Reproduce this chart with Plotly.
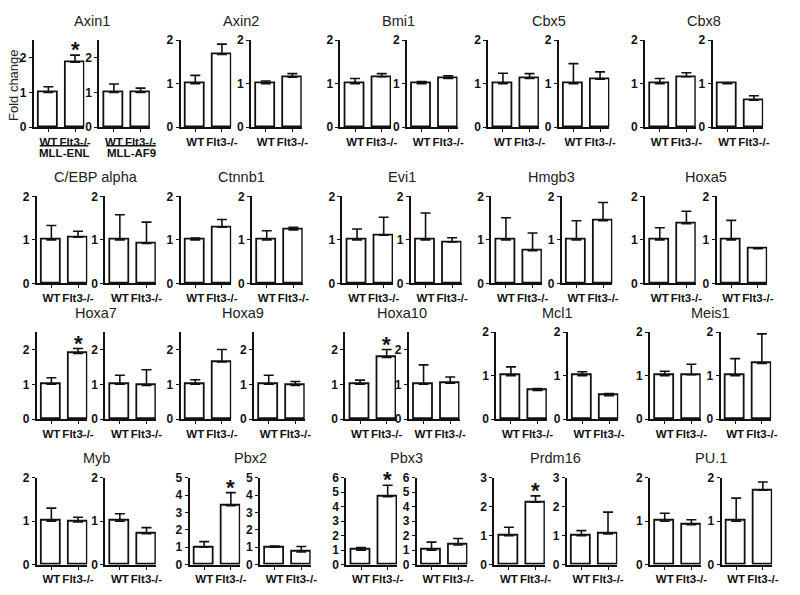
import plotly.graph_objects as go

# ---------------- data ----------------
genes = ["Axin1", "Axin2", "Bmi1", "Cbx5", "Cbx8",
         "C/EBP alpha", "Ctnnb1", "Evi1", "Hmgb3", "Hoxa5",
         "Hoxa7", "Hoxa9", "Hoxa10", "Mcl1", "Meis1",
         "Myb", "Pbx2", "Pbx3", "Prdm16", "PU.1"]
categories = ["WT", "Flt3-/-"]

# MLL-ENL panel (left of each pair)
enl_wt = [1.0, 1.0, 1.0, 1.0, 1.0, 1.0, 1.0, 1.0, 1.0, 1.0,
          1.0, 1.0, 1.0, 1.0, 1.0, 1.0, 1.0, 1.0, 1.0, 1.0]
enl_wt_err = [0.16, 0.19, 0.12, 0.24, 0.12, 0.33, 0.04, 0.25, 0.51, 0.28,
              0.19, 0.13, 0.12, 0.20, 0.10, 0.30, 0.32, 0.18, 0.29, 0.18]
enl_ko = [1.87, 1.67, 1.16, 1.12, 1.16, 1.06, 1.29, 1.11, 0.75, 1.37,
          1.89, 1.64, 1.77, 0.66, 1.02, 0.98, 3.38, 4.69, 2.15, 0.92]
enl_ko_err = [0.20, 0.24, 0.07, 0.11, 0.09, 0.14, 0.18, 0.41, 0.41, 0.29,
              0.14, 0.36, 0.23, 0.04, 0.24, 0.11, 0.76, 0.79, 0.22, 0.11]

# MLL-AF9 panel (right of each pair)
af9_wt = [1.0, 1.0, 1.0, 1.0, 1.0, 1.0, 1.0, 1.0, 1.0, 1.0,
          1.0, 1.0, 1.0, 1.0, 1.0, 1.0, 1.0, 1.0, 1.0, 1.0]
af9_wt_err = [0.24, 0.06, 0.05, 0.46, 0.0, 0.58, 0.21, 0.62, 0.44, 0.45,
              0.26, 0.26, 0.56, 0.09, 0.39, 0.17, 0.06, 0.55, 0.17, 0.53]
af9_ko = [1.0, 1.15, 1.12, 1.10, 0.62, 0.92, 1.23, 0.95, 1.44, 0.80,
          0.97, 0.97, 1.03, 0.54, 1.28, 0.71, 0.72, 1.35, 1.06, 1.71]
af9_ko_err = [0.12, 0.08, 0.06, 0.17, 0.10, 0.49, 0.06, 0.10, 0.42, 0.02,
              0.45, 0.11, 0.18, 0.05, 0.68, 0.14, 0.32, 0.45, 0.75, 0.19]

y_max = [2.5, 2, 2, 2, 2, 2, 2, 2, 2, 2,
         2.5, 2.5, 2.5, 2, 2, 2, 5, 6, 3, 2]
significant = ["Axin1", "Hoxa7", "Hoxa10", "Pbx2", "Pbx3", "Prdm16"]
group_labels = ["MLL-ENL", "MLL-AF9"]

# ---------------- layout geometry (pixels) ----------------
W, H = 800, 595
FONT = "Liberation Sans, Arial, sans-serif"
INK = "#111111"
row_tops = [34, 194, 333, 482]
plot_h = 89
panel_w = 51
pair_x = [
    [(34, 100), (182, 253), (343, 410), (492, 563), (650, 718)],
    [(37, 106), (182, 254), (345, 414), (495, 566), (650, 722)],
    [(37, 106), (182, 256), (348, 412), (500, 572), (655, 726)],
    [(37, 106), (191, 262), (349, 420), (498, 571), (655, 727)],
]


def px(x):
    return x / W


def py(y):
    return 1 - y / H


fig = go.Figure()
annotations = []
shapes = []
n = 0
for g, gene in enumerate(genes):
    r, c = divmod(g, 5)
    top = row_tops[r]
    bottom = top + plot_h
    panels = [
        ([enl_wt[g], enl_ko[g]], [enl_wt_err[g], enl_ko_err[g]]),
        ([af9_wt[g], af9_ko[g]], [af9_wt_err[g], af9_ko_err[g]]),
    ]
    for p, (vals, errs) in enumerate(panels):
        n += 1
        xa = "x" if n == 1 else f"x{n}"
        ya = "y" if n == 1 else f"y{n}"
        x0 = pair_x[r][c][p]
        fig.add_trace(go.Bar(
            x=[0, 1], y=vals, xaxis=xa, yaxis=ya, width=0.70,
            marker=dict(color="white", line=dict(color=INK, width=1.8)),
            error_y=dict(type="data", symmetric=False, array=errs,
                         arrayminus=[0, 0], color=INK, thickness=1.6, width=5),
            showlegend=False, hoverinfo="skip",
        ))
        ymax = y_max[g]
        fig.layout[f"xaxis{'' if n == 1 else n}"] = dict(
            domain=[px(x0), px(x0 + panel_w)], anchor=ya,
            range=[-0.55, 1.35], tickvals=[0, 1], ticktext=categories,
            tickangle=0,
            showline=True, linecolor=INK, linewidth=1.9,
            ticks="outside", ticklen=3, tickwidth=1.3, tickcolor=INK,
            showgrid=False, zeroline=False, fixedrange=True,
            tickfont=dict(family=FONT, size=11.5, color=INK, weight="bold"),
        )
        fig.layout[f"yaxis{'' if n == 1 else n}"] = dict(
            domain=[py(bottom), py(top)], anchor=xa,
            range=[0, ymax], tickmode="linear", tick0=0, dtick=1,
            showline=True, linecolor=INK, linewidth=1.9,
            ticks="outside", ticklen=3, tickwidth=1.3, tickcolor=INK,
            showgrid=False, zeroline=False, fixedrange=True,
            tickfont=dict(family=FONT, size=12, color=INK, weight="bold"),
        )
        if p == 0 and gene in significant:
            annotations.append(dict(
                x=1, y=vals[1] + errs[1], xref=xa, yref=ya, text="*",
                showarrow=False, yanchor="bottom", yshift=-9,
                font=dict(family=FONT, size=22, color=INK, weight="bold"),
            ))
    # gene title over the pair
    left = pair_x[r][c][0]
    right = pair_x[r][c][1] + panel_w
    annotations.append(dict(
        x=px((left + right) / 2), y=py(top - 20), xref="paper", yref="paper",
        text=gene, showarrow=False, xanchor="center", yanchor="middle",
        font=dict(family=FONT, size=14.5, color="#222222"),
    ))

# y-axis title on the first panel
annotations.append(dict(
    x=px(13), y=py(80), xref="paper", yref="paper", text="Fold change",
    textangle=-90, showarrow=False, xanchor="center", yanchor="middle",
    font=dict(family=FONT, size=13, color="#222222"),
))

# group labels under the Axin1 panels
for (a, b), lab in zip([(40, 89), (107, 157)], group_labels):
    shapes.append(dict(type="line", xref="paper", yref="paper",
                       x0=px(a), x1=px(b), y0=py(142), y1=py(142),
                       line=dict(color=INK, width=1.5)))
    annotations.append(dict(
        x=px((a + b) / 2), y=py(150), xref="paper", yref="paper", text=lab,
        showarrow=False, xanchor="center", yanchor="middle",
        font=dict(family=FONT, size=11.5, color=INK, weight="bold"),
    ))

fig.update_layout(
    width=W, height=H, margin=dict(l=0, r=0, t=0, b=0),
    paper_bgcolor="white", plot_bgcolor="white",
    annotations=annotations, shapes=shapes, bargap=0,
)

fig.write_html("out.html",
               config={"displayModeBar": False},
               post_script="document.body.style.margin='0';"
                           "document.body.style.overflow='hidden';")
